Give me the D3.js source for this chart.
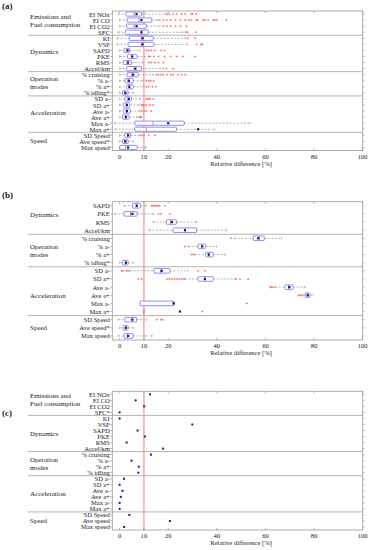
<!DOCTYPE html>
<html><head><meta charset="utf-8">
<script src="https://cdn.jsdelivr.net/npm/d3@7"></script>
<style>
body{margin:0;background:#fff}
svg{display:block}
text{font-family:"Liberation Serif","Times New Roman",serif;fill:#222}
</style>
</head><body><svg id="chart" width="370" height="550"></svg>
<script>
// ---------------- DATA ----------------
const groupNames = [["Emissions and","Fuel consumption"],["Dynamics"],["Operation","modes"],["Acceleration"],["Speed"]];
const xTicks = [0,10,20,40,60,80,100];
const refValue = 10;

// Panel (a)
const metricsA = ["EI NOx","EI CO","EI CO2","SFC","KI","VSP","SAPD","PKE","RMS","Accel/km","% cruising","% a-","% a+","% idling*","SD a-","SD a+","Ave a-","Ave a+","Max a-","Max a+","SD Speed","Ave speed*","Max speed"];
const groupA = [0,0,0,0,1,1,1,1,1,1,2,2,2,2,3,3,3,3,3,3,4,4,4];
const loA   = [-0.5,0,0,-0.5,-1,-1,0,0,0,0,0,0,0,0,0,0,0,0,-1.9,-1.9,0,0,0];
const q1A   = [2.6,3.1,2.9,2.4,4,3.5,1.9,3.3,1.5,2.9,3.1,2.2,2.9,1.2,2.2,1.5,1.5,1.2,6.3,6.3,2.2,1.2,0.1];
const medA  = [6,8,6,9,9,9,3,5,3,6,5,3.5,4,2,3.5,2.8,3,2.4,13.8,11,3.3,2,2.5];
const q3A   = [9,13.2,11.1,11.8,13.8,14.1,4.2,7.2,4.9,9,7.7,5.6,5.6,3.5,4.9,4.2,4.5,3.9,26.6,23.4,4.5,3.5,7.2];
const hiA   = [19,15.5,16.6,26,27,28,8.4,12,9.5,18,13.8,9.5,10,5.6,8.4,8,8.4,7,53.7,39.2,8.4,5.6,11];
const meanA = [7,9,7,9,9.5,9.5,3.3,5.2,3.5,6.5,5.6,3.8,4,2.4,3.8,3,3,2.6,20,32.3,3.5,2.4,3.5];
const outA  = [
  [19.5,20.5,22,23.5,25.5,27,29.5,30,31.5],
  [16.5,18,19.5,21,23,25,27,28.5,29.5,31.5,32.2,34.3,35,36.4,38.5,39.2,40,44],
  [18,19.5,21,23,25,27.5],
  [27.2,28,31.4],
  [28,31],
  [31.7,33.5,34],
  [11,12,13,14.5,17,18.5],
  [12.5,14,16,18.5,21,23.5,26,31],
  [12,13,14.5,16,18],
  [19.3,22],
  [15.2,16,17,18,19.5,21,22,24,25.5,27],
  [11,12,12.8,14],
  [11,12,13.5,15],
  [],
  [11,11.8,12.5,13.8],
  [9,9.5,10,11,12.5,13.8],
  [9,10,11,13],
  [8,8.5,9],
  [],[],
  [9,10,12,14.6],
  [],[]
];

// Panel (b)
const metricsB = ["SAPD","PKE","RMS","Accel/km","% cruising","% a-","% a+","% idling*","SD a-","SD a+","Ave a-","Ave a+","Max a-","Max a+","SD Speed","Ave speed*","Max speed"];
const groupB = [1,1,1,1,2,2,2,2,3,3,3,3,3,3,4,4,4];
const loB   = [1.9,-1.9,13.8,12.1,47.4,28.2,31,0,4.2,27,64,75.5,8.4,10,-0.6,0,-0.6];
const q1B   = [5.3,1.9,19.3,22,55,32.3,35.4,1.2,14.1,32.3,68,76.3,8.4,10,2.2,1.5,1.8];
const medB  = [6.8,4.5,21,27,57.5,33.8,36.5,2.4,17,35,69.5,77.2,22,10,5,2.4,3.2];
const q3B   = [8.6,7.2,23.4,31.7,59.5,35.4,38.5,3.5,20.7,38.5,71.4,78.3,22.3,10,7,3.5,5.6];
const hiB   = [11.1,13.8,31.7,44,66.7,39.9,43.3,5.6,28,47.4,76.3,79.7,22.3,10,11.1,5.6,11];
const meanB = [7.1,5.3,21.5,26.9,57,34,36.7,2.6,17.3,35.1,69.8,77.4,22.3,24.8,5.3,2.6,3.5];
const outB  = [
  [13.2,13.8,14.5,15,15.7,16.5,18.6],
  [16,17,20.7],
  [],[],
  [45.8],
  [26.9],
  [29.6,30.3],
  [],
  [0.8,1.5,2.8,3.5,32.3,35.1],
  [7.7,9,19.5,20.5,21.5,22.5,23.5,24.5,25.5,26.5,48,49.5,52.9],
  [61.9,62.5,63.2],
  [73.5,74.2,74.9],
  [52.3],
  [34],
  [15.3,17,17.6],
  [],
  [13.2]
];

// Panel (c)
const metricsC = ["EI NOx","EI CO","EI CO2","SFC*","KI","VSP","SAPD","PKE","RMS","Accel/km","% cruising","% a-","% a+","% idling","SD a-","SD a+","Ave a-","Ave a+","Max a-","Max a+","SD Speed","Ave speed","Max speed"];
const groupC = groupA;
const valuesC = [12.5,6.6,10.1,0,0,29.9,7.4,10.4,2.9,17.9,12.9,4.9,7.9,7.7,1.8,0,1.2,0.5,0,0,4,20.7,1.9];

// ---------------- DRAW ----------------
const svg = d3.select("#chart");
const X0 = 112.3, X1 = 362.7;
const x = d3.scaleLinear().domain([-3,100]).range([X0,X1]);

function panel(opt){
  const g = svg.append("g");
  const n = opt.metrics.length;
  const y = d3.scaleBand().domain(d3.range(n)).range([opt.top, opt.bottom]);
  const bw = y.bandwidth();
  const cy = i => y(i) + bw/2;

  g.append("text").attr("x",2).attr("y",opt.tagY).attr("font-size",9).attr("font-weight","bold").text(opt.tag);

  g.append("line").attr("x1",x(refValue)).attr("x2",x(refValue)).attr("y1",opt.top).attr("y2",opt.bottom)
    .attr("stroke","#f6a8a8").attr("stroke-width",1.5);

  const groups = [];
  opt.groups.forEach((gi,i)=>{
    if(!groups.length || groups[groups.length-1].g!==gi) groups.push({g:gi,start:i,end:i});
    else groups[groups.length-1].end = i;
  });
  groups.forEach((gr,k)=>{
    if(k>0){
      g.append("line").attr("x1",28).attr("x2",X1).attr("y1",y(gr.start)).attr("y2",y(gr.start))
        .attr("stroke","#b4b4b4").attr("stroke-width",1);
    }
    const lines = groupNames[gr.g];
    const mid = (y(gr.start) + y(gr.end)+bw)/2 + (opt.labelOffset[k]||0);
    lines.forEach((t,j)=>{
      g.append("text").attr("x",30).attr("y",mid + (j-(lines.length-1)/2)*8)
        .attr("dominant-baseline","central").attr("font-size",7).text(t);
    });
  });

  g.append("rect").attr("x",X0).attr("y",opt.top).attr("width",X1-X0).attr("height",opt.bottom-opt.top)
    .attr("fill","none").attr("stroke","#9a9a9a").attr("stroke-width",0.8);

  const ya = g.append("g");
  opt.metrics.forEach((m,i)=>{
    ya.append("line").attr("x1",X0-2).attr("x2",X0).attr("y1",cy(i)).attr("y2",cy(i)).attr("stroke","#888").attr("stroke-width",0.6);
    ya.append("line").attr("x1",X1).attr("x2",X1+1.8).attr("y1",cy(i)).attr("y2",cy(i)).attr("stroke","#888").attr("stroke-width",0.6);
    ya.append("text").attr("x",X0-2.5).attr("y",cy(i)).attr("text-anchor","end")
      .attr("dominant-baseline","central").attr("font-size",6.6).text(m);
  });

  xTicks.forEach(t=>{
    g.append("line").attr("x1",x(t)).attr("x2",x(t)).attr("y1",opt.bottom).attr("y2",opt.bottom-2).attr("stroke","#888").attr("stroke-width",0.6);
    g.append("line").attr("x1",x(t)).attr("x2",x(t)).attr("y1",opt.top).attr("y2",opt.top+2).attr("stroke","#888").attr("stroke-width",0.6);
    g.append("text").attr("x",x(t)).attr("y",opt.bottom+5.5).attr("text-anchor","middle")
      .attr("dominant-baseline","central").attr("font-size",6.6).text(t);
  });
  g.append("text").attr("x",(x(0)+X1)/2).attr("y",opt.bottom+12.8).attr("text-anchor","middle")
    .attr("dominant-baseline","central").attr("font-size",6.6).text("Relative difference [%]");

  if(opt.box){
    const bh = opt.boxH;
    opt.metrics.forEach((m,i)=>{
      const c = cy(i);
      const lo=opt.lo[i], q1=opt.q1[i], med=opt.med[i], q3=opt.q3[i], hi=opt.hi[i];
      [[lo,q1],[q3,hi]].forEach(([a,b])=>{
        if(b>a) g.append("line").attr("x1",x(a)).attr("x2",x(b)).attr("y1",c).attr("y2",c)
          .attr("stroke","#909090").attr("stroke-width",0.7).attr("stroke-dasharray","2,1.5");
      });
      [lo,hi].forEach(v=>{
        g.append("line").attr("x1",x(v)).attr("x2",x(v)).attr("y1",c-1.2).attr("y2",c+1.2)
          .attr("stroke","#909090").attr("stroke-width",0.6);
      });
      if(q3>q1){
        g.append("rect").attr("x",x(q1)).attr("y",c-bh/2).attr("width",x(q3)-x(q1)).attr("height",bh)
          .attr("fill","#fff").attr("stroke","#8484f2").attr("stroke-width",0.9).attr("rx",0.6);
      }
      g.append("line").attr("x1",x(med)).attr("x2",x(med)).attr("y1",c-bh/2).attr("y2",c+bh/2)
        .attr("stroke","#f06868").attr("stroke-width",0.9);
      opt.out[i].forEach(v=>{
        const px=x(v), s=1.1;
        g.append("path").attr("d",`M${px-s},${c}H${px+s}M${px},${c-s}V${c+s}`)
          .attr("stroke","#ff6464").attr("stroke-width",0.7).attr("fill","none");
      });
      g.append("rect").attr("x",x(opt.mean[i])-1.1).attr("y",c-1.1).attr("width",2.2).attr("height",2.2)
        .attr("fill","#161680");
    });
  } else {
    opt.metrics.forEach((m,i)=>{
      g.append("rect").attr("x",x(opt.values[i])-1).attr("y",cy(i)-1).attr("width",2).attr("height",2)
        .attr("fill","#1c1c86");
    });
  }
}

panel({tag:"(a)",tagY:9,top:11,bottom:150.5,metrics:metricsA,groups:groupA,box:true,boxH:4.2,
  lo:loA,q1:q1A,med:medA,q3:q3A,hi:hiA,mean:meanA,out:outA,labelOffset:[-2.5,-1,-0.5,-1,0]});
panel({tag:"(b)",tagY:198,top:201.7,bottom:340,metrics:metricsB,groups:groupB,box:true,boxH:4.6,
  lo:loB,q1:q1B,med:medB,q3:q3B,hi:hiB,mean:meanB,out:outB,labelOffset:[-3,0,5,0]});
panel({tag:"(c)",tagY:416,top:391.3,bottom:530,metrics:metricsC,groups:groupC,box:false,
  values:valuesC,labelOffset:[-3,0,0,0,0]});
</script>
</body></html>
